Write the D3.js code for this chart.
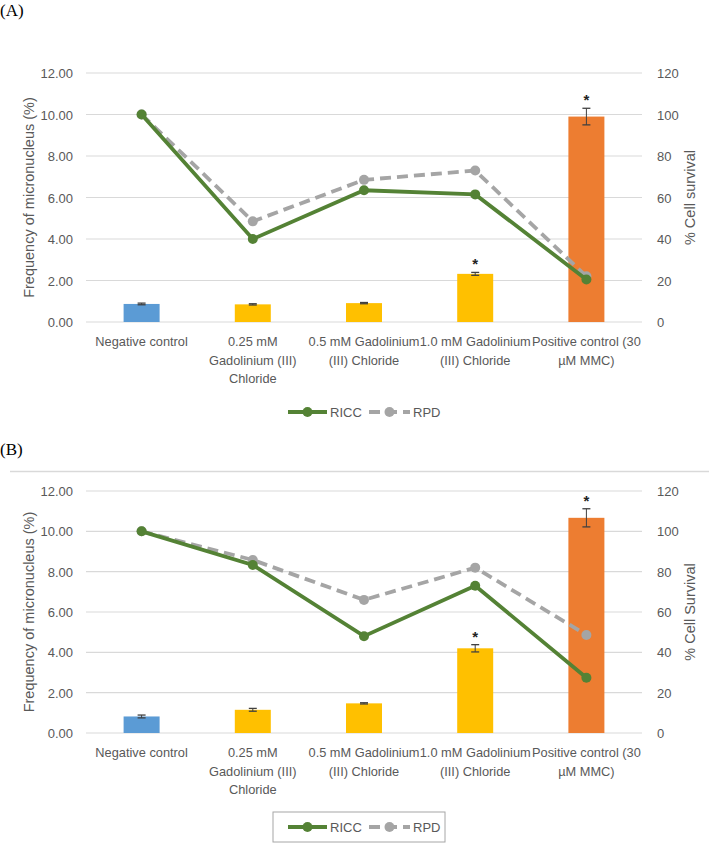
<!DOCTYPE html>
<html><head><meta charset="utf-8">
<script src="https://cdn.jsdelivr.net/npm/d3@7"></script>
<style>
body{margin:0;background:#fff;}
svg{display:block;}
.lab{font-family:"Liberation Sans",Arial,sans-serif;fill:#595959;}
</style></head>
<body>
<script>
// ---------- data ----------
const categories = ["Negative control","0.25 mM Gadolinium (III) Chloride","0.5 mM Gadolinium (III) Chloride","1.0 mM Gadolinium (III) Chloride","Positive control (30 µM MMC)"];
const categoryLines = [["Negative control"],["0.25 mM","Gadolinium (III)","Chloride"],["0.5 mM Gadolinium","(III) Chloride"],["1.0 mM Gadolinium","(III) Chloride"],["Positive control (30","µM MMC)"]];
const barColors = ["#5B9BD5","#FFC000","#FFC000","#FFC000","#ED7D31"];
const leftTicks = [0,2,4,6,8,10,12];
const rightTicks = [0,20,40,60,80,100,120];

const freqA = [0.87,0.85,0.91,2.32,9.90];
const errA  = [0.04,0.03,0.03,0.07,0.40];
const starA = [false,false,false,true,true];
const riccA = [100,40,63.5,61.5,20.5];
const rpdA  = [100,48.5,68.5,73,22];

const freqB = [0.82,1.15,1.47,4.20,10.67];
const errB  = [0.07,0.07,0.03,0.18,0.45];
const starB = [false,false,false,true,true];
const riccB = [100,83.3,48,73,27.4];
const rpdB  = [100,85.8,66,82,48.6];

const W = 709, H = 843;
const svg = d3.select("body").append("svg").attr("width",W).attr("height",H);

svg.append("text").text("(A)").attr("x",0).attr("y",16)
  .style("font-family","'Liberation Serif','Times New Roman',serif").style("font-size","17px").attr("fill","#000");
svg.append("text").text("(B)").attr("x",0).attr("y",455)
  .style("font-family","'Liberation Serif','Times New Roman',serif").style("font-size","17px").attr("fill","#000");

// chart area border of panel B (top line)
svg.append("line").attr("x1",10).attr("x2",W).attr("y1",471.5).attr("y2",471.5)
  .attr("stroke","#D9D9D9").attr("stroke-width",1.5);

function panel(cfg){
  const g = svg.append("g");
  const x = d3.scaleBand().domain(categories).range([86,642]);
  const yL = d3.scaleLinear().domain([0,12]).range([cfg.bottom,cfg.top]);
  const yR = d3.scaleLinear().domain([0,120]).range([cfg.bottom,cfg.top]);

  // gridlines
  g.selectAll(".grid").data(leftTicks).join("line")
    .attr("x1",86).attr("x2",642)
    .attr("y1",d=>yL(d)).attr("y2",d=>yL(d))
    .attr("stroke","#D9D9D9").attr("stroke-width",1.2);

  // left axis
  const ax = g.append("g").attr("transform","translate(75,0)")
    .call(d3.axisLeft(yL).tickValues(leftTicks).tickFormat(d3.format(".2f")).tickSize(0).tickPadding(2));
  ax.select(".domain").remove();
  ax.selectAll("text").attr("class","lab").style("font-size","13px").attr("dy","0.35em");

  const axr = g.append("g").attr("transform","translate(655,0)")
    .call(d3.axisRight(yR).tickValues(rightTicks).tickSize(0).tickPadding(2));
  axr.select(".domain").remove();
  axr.selectAll("text").attr("class","lab").style("font-size","13px").attr("dy","0.35em");

  // axis titles
  const midY = (cfg.top+cfg.bottom)/2;
  g.append("text").attr("class","lab").text("Frequency of micronucleus (%)")
    .attr("transform",`translate(34,${midY}) rotate(-90)`).attr("text-anchor","middle").style("font-size","14.5px");
  g.append("text").attr("class","lab").text(cfg.rightTitle)
    .attr("transform",`translate(695,${midY}) rotate(-90)`).attr("text-anchor","middle").style("font-size","14.5px");

  // bars
  const bw = 36;
  g.selectAll(".bar").data(cfg.freq).join("rect")
    .attr("x",(d,i)=>x(categories[i])+x.bandwidth()/2-bw/2)
    .attr("width",bw)
    .attr("y",d=>yL(d)).attr("height",d=>yL(0)-yL(d))
    .attr("fill",(d,i)=>barColors[i]);

  // error bars
  cfg.freq.forEach((d,i)=>{
    const cx = x(categories[i])+x.bandwidth()/2;
    const e = cfg.err[i];
    const y1 = yL(d+e), y2 = yL(d-e);
    g.append("line").attr("x1",cx).attr("x2",cx).attr("y1",y1).attr("y2",y2).attr("stroke","#404040").attr("stroke-width",1);
    [y1,y2].forEach(yy=>g.append("line").attr("x1",cx-4).attr("x2",cx+4).attr("y1",yy).attr("y2",yy).attr("stroke","#404040").attr("stroke-width",1.3));
    if(cfg.star[i]){
      g.append("text").text("*").attr("x",cx).attr("y",y1-3).attr("text-anchor","middle")
        .style("font-family","'Liberation Sans',Arial,sans-serif").style("font-size","15px").style("font-weight","bold").attr("fill","#222");
    }
  });

  // category labels
  categoryLines.forEach((lines,i)=>{
    const cx = x(categories[i])+x.bandwidth()/2;
    const t = g.append("text").attr("class","lab").attr("text-anchor","middle").style("font-size","12.8px");
    lines.forEach((l,j)=>t.append("tspan").attr("x",cx).attr("y",cfg.bottom+24+j*18.5).text(l));
  });

  const cxf = (d,i)=>x(categories[i])+x.bandwidth()/2;
  const line = d3.line().x(cxf).y(d=>yR(d));
  // RPD
  g.append("path").datum(cfg.rpd).attr("d",line).attr("fill","none")
    .attr("stroke","#A5A5A5").attr("stroke-width",3.8).attr("stroke-dasharray","11,6");
  g.selectAll(".rpdpt").data(cfg.rpd).join("circle")
    .attr("cx",cxf).attr("cy",d=>yR(d)).attr("r",5).attr("fill","#A5A5A5");
  // RICC
  g.append("path").datum(cfg.ricc).attr("d",line).attr("fill","none")
    .attr("stroke","#548235").attr("stroke-width",3.8);
  g.selectAll(".riccpt").data(cfg.ricc).join("circle")
    .attr("cx",cxf).attr("cy",d=>yR(d)).attr("r",5).attr("fill","#548235");

  // legend
  const lg = g.append("g").attr("transform",`translate(0,${cfg.legendY})`);
  if(cfg.legendBox){
    lg.append("rect").attr("x",273).attr("y",-15).attr("width",172).attr("height",30)
      .attr("fill","none").attr("stroke","#A6A6A6").attr("stroke-width",1);
  }
  lg.append("line").attr("x1",288).attr("x2",327).attr("y1",0).attr("y2",0).attr("stroke","#548235").attr("stroke-width",3.8);
  lg.append("circle").attr("cx",307.5).attr("cy",0).attr("r",5).attr("fill","#548235");
  lg.append("text").attr("class","lab").attr("x",330).attr("y",0).attr("dy","0.35em").style("font-size","13px").text("RICC");
  lg.append("line").attr("x1",369).attr("x2",410).attr("y1",0).attr("y2",0).attr("stroke","#A5A5A5").attr("stroke-width",3.8).attr("stroke-dasharray","11,6");
  lg.append("circle").attr("cx",389.5).attr("cy",0).attr("r",5).attr("fill","#A5A5A5");
  lg.append("text").attr("class","lab").attr("x",413).attr("y",0).attr("dy","0.35em").style("font-size","13px").text("RPD");
}

panel({top:73,bottom:322,freq:freqA,err:errA,star:starA,ricc:riccA,rpd:rpdA,rightTitle:"% Cell survival",legendY:412,legendBox:false});
panel({top:491,bottom:733,freq:freqB,err:errB,star:starB,ricc:riccB,rpd:rpdB,rightTitle:"% Cell Survival",legendY:827,legendBox:true});
</script>
</body></html>
